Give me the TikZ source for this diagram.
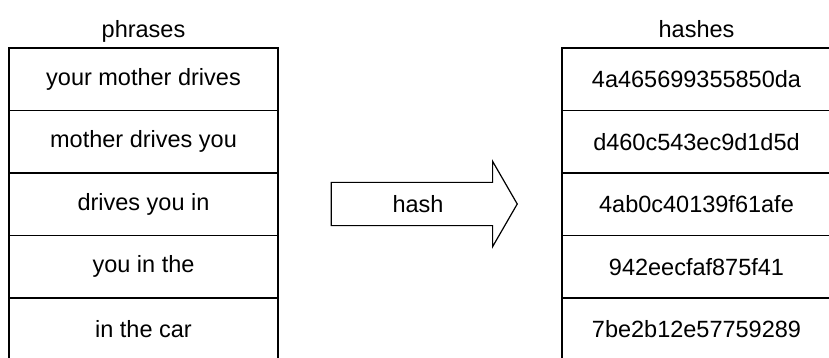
\documentclass[tikz,border=0pt]{standalone}
\usepackage{fontspec}
\setmainfont{Liberation Sans}
\usetikzlibrary{shapes.arrows, positioning}

\begin{document}
\begin{tikzpicture}[
    x=1pt, y=1pt,
    node distance=0pt,
    cell/.style={rectangle, minimum width=269pt, minimum height=62.5pt, text centered, draw=black, line width=1.2pt, outer sep=0pt, inner sep=0pt, font=\fontsize{23.5}{28}\selectfont},
    title/.style={text height=17pt, text depth=5pt, font=\fontsize{23.5}{28}\selectfont},
    hasharrow/.style={single arrow, draw=black, line width=1.2pt, minimum height=186pt, minimum width=84pt, single arrow head extend=21pt, single arrow tip angle=120, inner xsep=0pt, inner ysep=12.5pt, text height=17pt, text depth=0pt, font=\fontsize{23.5}{28}\selectfont},
]
    \useasboundingbox (0,0) rectangle (829,-358);

    % phrases column
    \node (p1) [cell] at (143.5,-79.25) {your mother drives};
    \node (p2) [cell, below=of p1] {mother drives you};
    \node (p3) [cell, below=of p2] {drives you in};
    \node (p4) [cell, below=of p3] {you in the};
    \node (p5) [cell, below=of p4] {in the car};
    \node (phrases) [title, above=2pt of p1] {phrases};

    % hashes column
    \node (h1) [cell] at (696.5,-79.25) {4a465699355850da};
    \node (h2) [cell, below=of h1] {d460c543ec9d1d5d};
    \node (h3) [cell, below=of h2] {4ab0c40139f61afe};
    \node (h4) [cell, below=of h3] {942eecfaf875f41};
    \node (h5) [cell, below=of h4] {7be2b12e57759289};
    \node (hashes) [title, above=2pt of h1] {hashes};

    % the hash step
    \node (hashop) [hasharrow] at (418,-204) {hash};

\end{tikzpicture}
\end{document}
